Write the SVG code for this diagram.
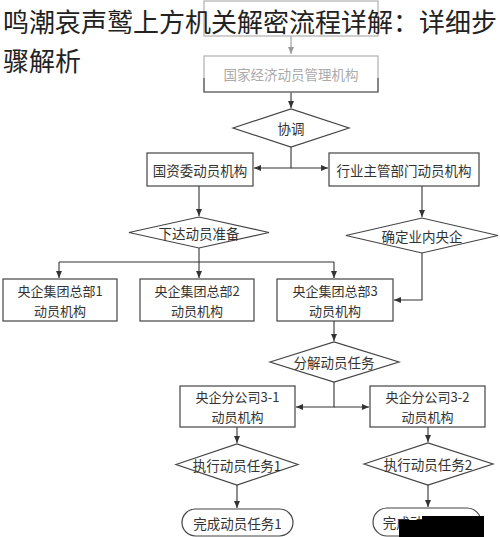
<svg xmlns="http://www.w3.org/2000/svg" width="500" height="537" viewBox="0 0 500 537">
<style>
.box{fill:#fff;stroke:#444;stroke-width:1.2}
.gbox{fill:#fff;stroke:#b0b0b0;stroke-width:1.2}
.t{font-family:"Noto Sans CJK SC","Noto Sans",sans-serif;font-size:13.5px;fill:#333;text-anchor:middle;dominant-baseline:central}
.t2{font-size:13px}
.gt{fill:#aaa}
.ln{fill:none;stroke:#333;stroke-width:1.1}
.gln{fill:none;stroke:#999;stroke-width:1.1}
.title{font-family:"Noto Sans CJK SC","Noto Sans",sans-serif;font-size:26px;fill:#222}
</style>
<defs>
<marker id="ah" markerWidth="8" markerHeight="8" refX="7" refY="4" orient="auto" markerUnits="userSpaceOnUse">
<path d="M0,1 L7,4 L0,7 Z" fill="#333"/>
</marker>
<marker id="gah" markerWidth="8" markerHeight="8" refX="7" refY="4" orient="auto" markerUnits="userSpaceOnUse">
<path d="M0,1 L7,4 L0,7 Z" fill="#999"/>
</marker>
</defs>
<rect width="500" height="537" fill="#fff"/>

<g id="connectors">
<path class="gln" d="M291,36 V54" marker-end="url(#gah)"/>
<path class="ln" d="M291,92 V108" marker-end="url(#ah)"/>
<path class="ln" d="M291,147 V168 H254" marker-end="url(#ah)"/>
<path class="ln" d="M291,168 H328" marker-end="url(#ah)"/>
<path class="ln" d="M199,186 V216" marker-end="url(#ah)"/>
<path class="ln" d="M422,186 V217" marker-end="url(#ah)"/>
<path class="ln" d="M199,248 V262"/>
<path class="ln" d="M59,262 H334"/>
<path class="ln" d="M59,262 V278" marker-end="url(#ah)"/>
<path class="ln" d="M199,262 V278" marker-end="url(#ah)"/>
<path class="ln" d="M334,262 V278" marker-end="url(#ah)"/>
<path class="ln" d="M422,253 V300 H394" marker-end="url(#ah)"/>
<path class="ln" d="M334,321 V341" marker-end="url(#ah)"/>
<path class="ln" d="M334,382 V407 H296" marker-end="url(#ah)"/>
<path class="ln" d="M334,407 H369" marker-end="url(#ah)"/>
<path class="ln" d="M237,427 V443" marker-end="url(#ah)"/>
<path class="ln" d="M428,427 V442" marker-end="url(#ah)"/>
<path class="ln" d="M237,485 V508" marker-end="url(#ah)"/>
<path class="ln" d="M428,485 V507" marker-end="url(#ah)"/>
</g>

<g id="n0"><rect class="gbox" x="204" y="1" width="174" height="35"/></g>
<g id="n1"><rect class="gbox" x="204" y="56" width="174" height="36"/><path d="M204,78 V92 H378 V78" fill="none" stroke="#555" stroke-width="1.2"/><text class="t gt" x="291" y="74">国家经济动员管理机构</text></g>
<g id="n2"><polygon class="box" points="233,128 291,109 349,128 291,147"/><text class="t" x="291" y="128">协调</text></g>
<g id="n3"><rect class="box" x="147" y="153" width="106" height="33"/><text class="t" x="200" y="169.5">国资委动员机构</text></g>
<g id="n4"><rect class="box" x="329" y="153" width="150" height="33"/><text class="t" x="404" y="169.5">行业主管部门动员机构</text></g>
<g id="n5"><polygon class="box" points="129,232.5 199,217 269,232.5 199,248"/><text class="t" x="199" y="232.5">下达动员准备</text></g>
<g id="n6"><polygon class="box" points="346,235.5 422,218 498,235.5 422,253"/><text class="t" x="422" y="235.5">确定业内央企</text></g>
<g id="n7"><rect class="box" x="3" y="279" width="114" height="42"/><text class="t t2" x="60" y="290">央企集团总部1</text><text class="t t2" x="60" y="310">动员机构</text></g>
<g id="n8"><rect class="box" x="140" y="279" width="114" height="42"/><text class="t t2" x="197" y="290">央企集团总部2</text><text class="t t2" x="197" y="310">动员机构</text></g>
<g id="n9"><rect class="box" x="277" y="279" width="116" height="42"/><text class="t t2" x="335" y="290">央企集团总部3</text><text class="t t2" x="335" y="310">动员机构</text></g>
<g id="n10"><polygon class="box" points="270,362 334,342 399,362 334,382"/><text class="t" x="334" y="362">分解动员任务</text></g>
<g id="n11"><rect class="box" x="180" y="386" width="115" height="41"/><text class="t t2" x="237.5" y="396.5">央企分公司3-1</text><text class="t t2" x="237.5" y="416.5">动员机构</text></g>
<g id="n12"><rect class="box" x="370" y="386" width="115" height="41"/><text class="t t2" x="427.5" y="396.5">央企分公司3-2</text><text class="t t2" x="427.5" y="416.5">动员机构</text></g>
<g id="n13"><polygon class="box" points="176,464.5 237,444 298,464.5 237,485"/><text class="t" x="237" y="464.5">执行动员任务1</text></g>
<g id="n14"><polygon class="box" points="364,464 428,443 493,464 428,485"/><text class="t" x="428" y="464">执行动员任务2</text></g>
<g id="n15"><rect class="box" x="182" y="509" width="111" height="27" rx="13.5"/><text class="t" x="237.5" y="522.5">完成动员任务1</text></g>
<g id="n16"><rect class="box" x="373" y="508" width="108" height="28" rx="14"/><text class="t" x="427" y="522">完成动员任务2</text></g>

<path d="M422,516 H484 V537 H399 V520 H422 Z" fill="#000"/>

<text class="title" x="3" y="32">鸣潮哀声鹫上方机关解密流程详解：详细步</text>
<text class="title" x="3" y="71">骤解析</text>
</svg>
